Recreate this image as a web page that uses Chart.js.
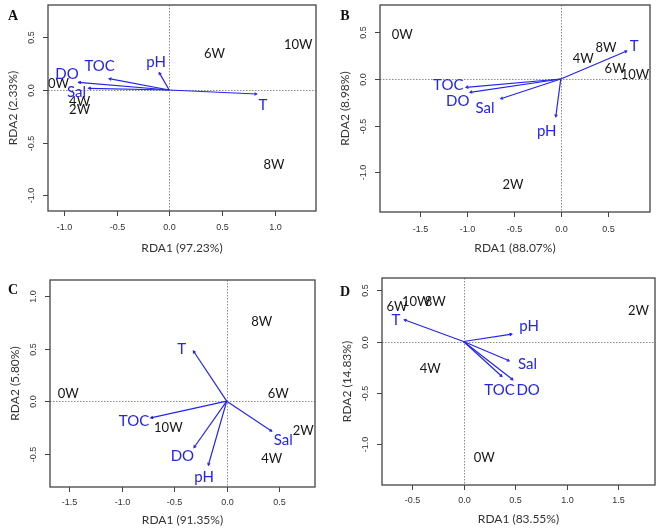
<!DOCTYPE html>
<html>
<head>
<meta charset="utf-8">
<script src="https://cdn.jsdelivr.net/npm/chart.js@4/dist/chart.umd.min.js"></script>
<style>
  html, body { margin: 0; padding: 0; background: #fff; }
  #wrap { position: relative; width: 661px; height: 531px; overflow: hidden; background: #fff; }
  .pane { position: absolute; }
</style>
</head>
<body>
<div id="wrap">
  <div class="pane" style="left:0;top:0"><canvas id="cA" width="330" height="265"></canvas></div>
  <div class="pane" style="left:330px;top:0"><canvas id="cB" width="331" height="265"></canvas></div>
  <div class="pane" style="left:0;top:265px"><canvas id="cC" width="330" height="266"></canvas></div>
  <div class="pane" style="left:330px;top:265px"><canvas id="cD" width="331" height="266"></canvas></div>
</div>
<script>
// ---------------- DATA ----------------
const varNames  = ['T', 'pH', 'TOC', 'DO', 'Sal'];
const siteNames = ['0W', '2W', '4W', '6W', '8W', '10W'];

// Panel A
const arrowX_A = [0.83, -0.095, -0.57, -0.86, -0.765];
const arrowY_A = [-0.038, 0.165, 0.108, 0.073, 0.016];
const varLabX_A = [0.89, -0.125, -0.66, -0.97, -0.88];
const varLabY_A = [-0.135, 0.27, 0.23, 0.152, -0.016];
const siteX_A = [-1.05, -0.85, -0.85, 0.43, 0.995, 1.225];
const siteY_A = [0.063, -0.18, -0.11, 0.35, -0.705, 0.43];
const xTicks_A = [-1.0, -0.5, 0.0, 0.5, 1.0];
const yTicks_A = [-1.0, -0.5, 0.0, 0.5];

// Panel B
const arrowX_B = [0.702, -0.053, -1.007, -0.965, -0.638];
const arrowY_B = [0.30, -0.404, -0.089, -0.143, -0.211];
const varLabX_B = [0.78, -0.149, -1.196, -1.096, -0.805];
const varLabY_B = [0.357, -0.557, -0.057, -0.232, -0.307];
const siteX_B = [-1.685, -0.507, 0.24, 0.578, 0.482, 0.79];
const siteY_B = [0.482, -1.129, 0.222, 0.115, 0.335, 0.054];
const xTicks_B = [-1.5, -1.0, -0.5, 0.0, 0.5];
const yTicks_B = [-1.0, -0.5, 0.0, 0.5];

// Panel C
const arrowX_C = [-0.317, -0.175, -0.722, -0.311, 0.428];
const arrowY_C = [0.477, -0.61, -0.159, -0.441, -0.286];
const varLabX_C = [-0.428, -0.216, -0.881, -0.422, 0.538];
const varLabY_C = [0.502, -0.722, -0.181, -0.521, -0.362];
const siteX_C = [-1.506, 0.728, 0.428, 0.49, 0.333, -0.555];
const siteY_C = [0.073, -0.276, -0.54, 0.073, 0.763, -0.25];
const xTicks_C = [-1.5, -1.0, -0.5, 0.0, 0.5];
const yTicks_C = [-0.5, 0.0, 0.5, 1.0];

// Panel D
const arrowX_D = [-0.574, 0.468, 0.372, 0.478, 0.442];
const arrowY_D = [0.213, 0.072, -0.343, -0.375, -0.189];
const varLabX_D = [-0.655, 0.636, 0.348, 0.626, 0.62];
const varLabY_D = [0.213, 0.154, -0.474, -0.474, -0.212];
const siteX_D = [0.2, 1.694, -0.322, -0.645, -0.274, -0.458];
const siteY_D = [-1.133, 0.301, -0.261, 0.343, 0.392, 0.392];
const xTicks_D = [-0.5, 0.0, 0.5, 1.0, 1.5];
const yTicks_D = [-1.0, -0.5, 0.0, 0.5];

const panelLetters = ['A', 'B', 'C', 'D'];
const xTitles = ['RDA1 (97.23%)', 'RDA1 (88.07%)', 'RDA1 (91.35%)', 'RDA1 (83.55%)'];
const yTitles = ['RDA2 (2.33%)', 'RDA2 (8.98%)', 'RDA2 (5.80%)', 'RDA2 (14.83%)'];

// ---------------- LAYOUT / STYLE ----------------
const BLUE = '#2424ee';
const panels = [
  { id: 'cA', ax: arrowX_A, ay: arrowY_A, lx: varLabX_A, ly: varLabY_A, sx: siteX_A, sy: siteY_A,
    xt: xTicks_A, yt: yTicks_A, xr: [-1.15, 1.393], yr: [-1.149, 0.807],
    pad: { left: 48, right: 14, top: 5, bottom: 54 }, letter: [13, 16], tickOff: 17, titleOff: 37 },
  { id: 'cB', ax: arrowX_B, ay: arrowY_B, lx: varLabX_B, ly: varLabY_B, sx: siteX_B, sy: siteY_B,
    xt: xTicks_B, yt: yTicks_B, xr: [-1.922, 0.949], yr: [-1.425, 0.793],
    pad: { left: 50, right: 11, top: 5, bottom: 53 }, letter: [15, 16], tickOff: 18, titleOff: 36 },
  { id: 'cC', ax: arrowX_C, ay: arrowY_C, lx: varLabX_C, ly: varLabY_C, sx: siteX_C, sy: siteY_C,
    xt: xTicks_C, yt: yTicks_C, xr: [-1.68, 0.839], yr: [-0.817, 1.153],
    pad: { left: 50, right: 15, top: 15, bottom: 44 }, letter: [13, 25], tickOff: 16, titleOff: 33 },
  { id: 'cD', ax: arrowX_D, ay: arrowY_D, lx: varLabX_D, ly: varLabY_D, sx: siteX_D, sy: siteY_D,
    xt: xTicks_D, yt: yTicks_D, xr: [-0.79, 1.855], yr: [-1.405, 0.622],
    pad: { left: 52, right: 6, top: 13, bottom: 46 }, letter: [15, 27], tickOff: 16, titleOff: 34 }
];

function drawCapText(ctx, txt, x, y, size) {
  ctx.textAlign = 'center';
  ctx.textBaseline = 'alphabetic';
  ctx.fillText(txt, x, y + size * 0.36);
}

const rdaPlugin = {
  id: 'rda',
  beforeDatasetsDraw(chart) {
    const { ctx, chartArea: a, scales: { x, y } } = chart;
    ctx.save();
    ctx.strokeStyle = '#8a8a8a';
    ctx.lineWidth = 1;
    ctx.setLineDash([1.5, 1.5]);
    const x0 = Math.round(x.getPixelForValue(0)) + 0.5;
    const y0 = Math.round(y.getPixelForValue(0)) + 0.5;
    ctx.beginPath();
    ctx.moveTo(x0, a.top); ctx.lineTo(x0, a.bottom);
    ctx.moveTo(a.left, y0); ctx.lineTo(a.right, y0);
    ctx.stroke();
    ctx.restore();
  },
  afterDatasetsDraw(chart) {
    const { ctx, chartArea: a, scales: { x, y } } = chart;
    const p = chart.options.plugins.rda.panel;
    ctx.save();
    // arrowheads
    ctx.strokeStyle = BLUE;
    ctx.lineWidth = 1.1;
    const ox = x.getPixelForValue(0), oy = y.getPixelForValue(0);
    chart.data.datasets.forEach(ds => {
      if (ds.role !== 'arrow') return;
      const end = ds.data[1];
      const ex = x.getPixelForValue(end.x), ey = y.getPixelForValue(end.y);
      const ang = Math.atan2(ey - oy, ex - ox);
      const L = 2.6, w = Math.PI / 6;
      ctx.beginPath();
      ctx.moveTo(ex - L * Math.cos(ang - w), ey - L * Math.sin(ang - w));
      ctx.lineTo(ex, ey);
      ctx.lineTo(ex - L * Math.cos(ang + w), ey - L * Math.sin(ang + w));
      ctx.stroke();
    });
    // site labels
    const siteDs = chart.data.datasets.find(d => d.role === 'site');
    ctx.fillStyle = '#161616';
    ctx.font = '13px Lato';
    siteDs.data.forEach(pt => {
      drawCapText(ctx, pt.name, x.getPixelForValue(pt.x), y.getPixelForValue(pt.y), 13);
    });
    // variable labels
    const varDs = chart.data.datasets.find(d => d.role === 'varlabel');
    ctx.fillStyle = BLUE;
    ctx.font = '15px Lato';
    varDs.data.forEach(pt => {
      drawCapText(ctx, pt.name, x.getPixelForValue(pt.x), y.getPixelForValue(pt.y), 15);
    });
    // box
    ctx.strokeStyle = '#444';
    ctx.lineWidth = 1.3;
    ctx.strokeRect(a.left, a.top, a.right - a.left, a.bottom - a.top);
    // ticks
    ctx.lineWidth = 1;
    ctx.fillStyle = '#333';
    ctx.font = '9px "Liberation Sans"';
    p.xt.forEach(v => {
      const px = Math.round(x.getPixelForValue(v)) + 0.5;
      ctx.beginPath(); ctx.moveTo(px, a.bottom); ctx.lineTo(px, a.bottom + 5); ctx.stroke();
      ctx.textAlign = 'center'; ctx.textBaseline = 'middle';
      ctx.fillText(v.toFixed(1), px, a.bottom + p.tickOff);
    });
    p.yt.forEach(v => {
      const py = Math.round(y.getPixelForValue(v)) + 0.5;
      ctx.beginPath(); ctx.moveTo(a.left, py); ctx.lineTo(a.left - 5, py); ctx.stroke();
      ctx.save();
      ctx.translate(a.left - 16, py);
      ctx.rotate(-Math.PI / 2);
      ctx.textAlign = 'center'; ctx.textBaseline = 'middle';
      ctx.fillText(v.toFixed(1), 0, 0);
      ctx.restore();
    });
    // axis titles
    ctx.fillStyle = '#333';
    ctx.font = '12px Lato';
    ctx.textAlign = 'center'; ctx.textBaseline = 'middle';
    ctx.fillText(p.xTitle, (a.left + a.right) / 2, a.bottom + p.titleOff);
    ctx.save();
    ctx.translate(a.left - 35, (a.top + a.bottom) / 2);
    ctx.rotate(-Math.PI / 2);
    ctx.fillText(p.yTitle, 0, 0);
    ctx.restore();
    // panel letter
    ctx.fillStyle = '#111';
    ctx.font = 'bold 14px "Liberation Serif"';
    ctx.textAlign = 'center'; ctx.textBaseline = 'middle';
    ctx.fillText(p.letterText, p.letter[0], p.letter[1]);
    ctx.restore();
  }
};

panels.forEach((p, k) => {
  p.xTitle = xTitles[k];
  p.yTitle = yTitles[k];
  p.letterText = panelLetters[k];
  const datasets = varNames.map((n, i) => ({
    role: 'arrow',
    label: n,
    data: [{ x: 0, y: 0 }, { x: p.ax[i], y: p.ay[i] }],
    showLine: true,
    borderColor: BLUE,
    borderWidth: 1.2,
    pointRadius: 0,
    fill: false
  }));
  datasets.push({
    role: 'site', label: 'sites',
    data: siteNames.map((n, i) => ({ x: p.sx[i], y: p.sy[i], name: n })),
    pointRadius: 0
  });
  datasets.push({
    role: 'varlabel', label: 'variables',
    data: varNames.map((n, i) => ({ x: p.lx[i], y: p.ly[i], name: n })),
    pointRadius: 0
  });
  new Chart(document.getElementById(p.id), {
    type: 'scatter',
    data: { datasets },
    options: {
      responsive: false,
      animation: false,
      events: [],
      devicePixelRatio: 1,
      layout: { padding: p.pad },
      plugins: { legend: { display: false }, tooltip: { enabled: false }, rda: { panel: p } },
      scales: {
        x: { type: 'linear', min: p.xr[0], max: p.xr[1], display: false },
        y: { type: 'linear', min: p.yr[0], max: p.yr[1], display: false }
      }
    },
    plugins: [rdaPlugin]
  });
});
</script>
</body>
</html>
